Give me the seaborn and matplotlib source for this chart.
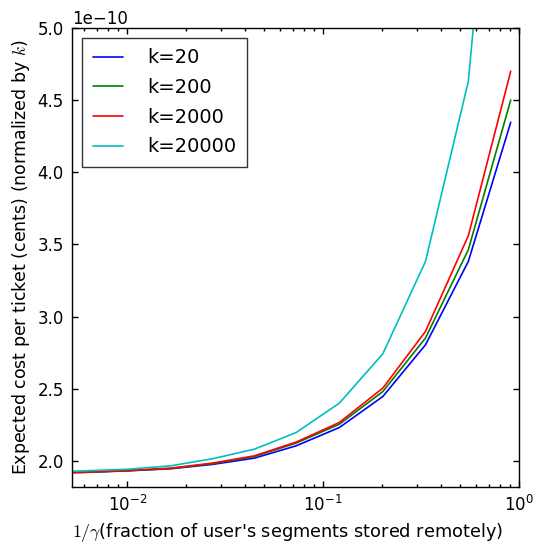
import numpy as np
import pandas as pd
import matplotlib
matplotlib.use("Agg")
import matplotlib.pyplot as plt
import seaborn as sns

# fraction of user's segments stored remotely (1/gamma)
x_vals = [0.0037, 0.0061, 0.01005, 0.01656, 0.0271, 0.0446, 0.0728, 0.121, 0.2017, 0.333, 0.551, 0.907]

# expected cost per ticket (normalized by k), in units of 1e-10
cost_k20 = [1.915, 1.920, 1.931, 1.945, 1.975, 2.019, 2.104, 2.231, 2.446, 2.804, 3.382, 4.346]
cost_k200 = [1.917, 1.921, 1.932, 1.947, 1.980, 2.030, 2.123, 2.254, 2.480, 2.851, 3.463, 4.500]
cost_k2000 = [1.918, 1.922, 1.933, 1.949, 1.984, 2.035, 2.130, 2.266, 2.504, 2.897, 3.560, 4.700]
cost_k20000 = [1.922, 1.931, 1.942, 1.965, 2.014, 2.081, 2.196, 2.400, 2.742, 3.382, 4.630, 7.800]

labels = ["k=20", "k=200", "k=2000", "k=20000"]
series = [cost_k20, cost_k200, cost_k2000, cost_k20000]

rows = []
for lab, vals in zip(labels, series):
    for xv, yv in zip(x_vals, vals):
        rows.append({"x": xv, "cost": yv * 1e-10, "k": lab})
df = pd.DataFrame(rows)

sns.set_style("ticks")
plt.rcParams["font.family"] = ["DejaVu Sans"]
plt.rcParams["mathtext.fontset"] = "cm"
plt.rcParams["text.color"] = "black"
plt.rcParams["axes.labelcolor"] = "black"
plt.rcParams["xtick.color"] = "black"
plt.rcParams["ytick.color"] = "black"

fig = plt.figure(figsize=(5.34, 5.47), dpi=100)
fig.patch.set_facecolor("white")
ax = fig.add_axes([0.135, 0.110, 0.837, 0.839])

palette = {"k=20": (0, 0, 1), "k=200": (0, 0.5, 0), "k=2000": (1, 0, 0), "k=20000": (0, 0.75, 0.75)}
sns.lineplot(data=df, x="x", y="cost", hue="k", hue_order=labels, palette=palette,
             linewidth=1.2, ax=ax, legend=True)

ax.set_xscale("log")
ax.set_xlim(0.00523, 1.0)
ax.set_ylim(1.82e-10, 5.0e-10)
ax.set_yticks([2.0e-10, 2.5e-10, 3.0e-10, 3.5e-10, 4.0e-10, 4.5e-10, 5.0e-10])

ax.tick_params(which="both", direction="in", top=True, right=True, labelsize=12, pad=6,
               colors="black")
ax.tick_params(which="major", length=4, width=1)
ax.tick_params(which="minor", length=2, width=1)
for s in ax.spines.values():
    s.set_linewidth(1.0)
    s.set_color("black")
ax.yaxis.get_offset_text().set_fontsize(12)

ax.set_xlabel(r"$1/\gamma$(fraction of user's segments stored remotely)", fontsize=12.8)
ax.xaxis.set_label_coords(0.481, -0.075)
ax.set_ylabel(r"Expected cost per ticket (cents) (normalized by $k$)", fontsize=12.5)

leg = ax.legend(loc="upper left", fontsize=14, frameon=True, fancybox=False,
                handlelength=1.55, handletextpad=1.25, borderaxespad=0.5,
                labelspacing=0.55, borderpad=0.55)
leg.get_frame().set_edgecolor("black")
leg.get_frame().set_linewidth(1.0)
for t in leg.get_texts():
    t.set_color("black")

fig.savefig("out.png", dpi=100, facecolor="white")
